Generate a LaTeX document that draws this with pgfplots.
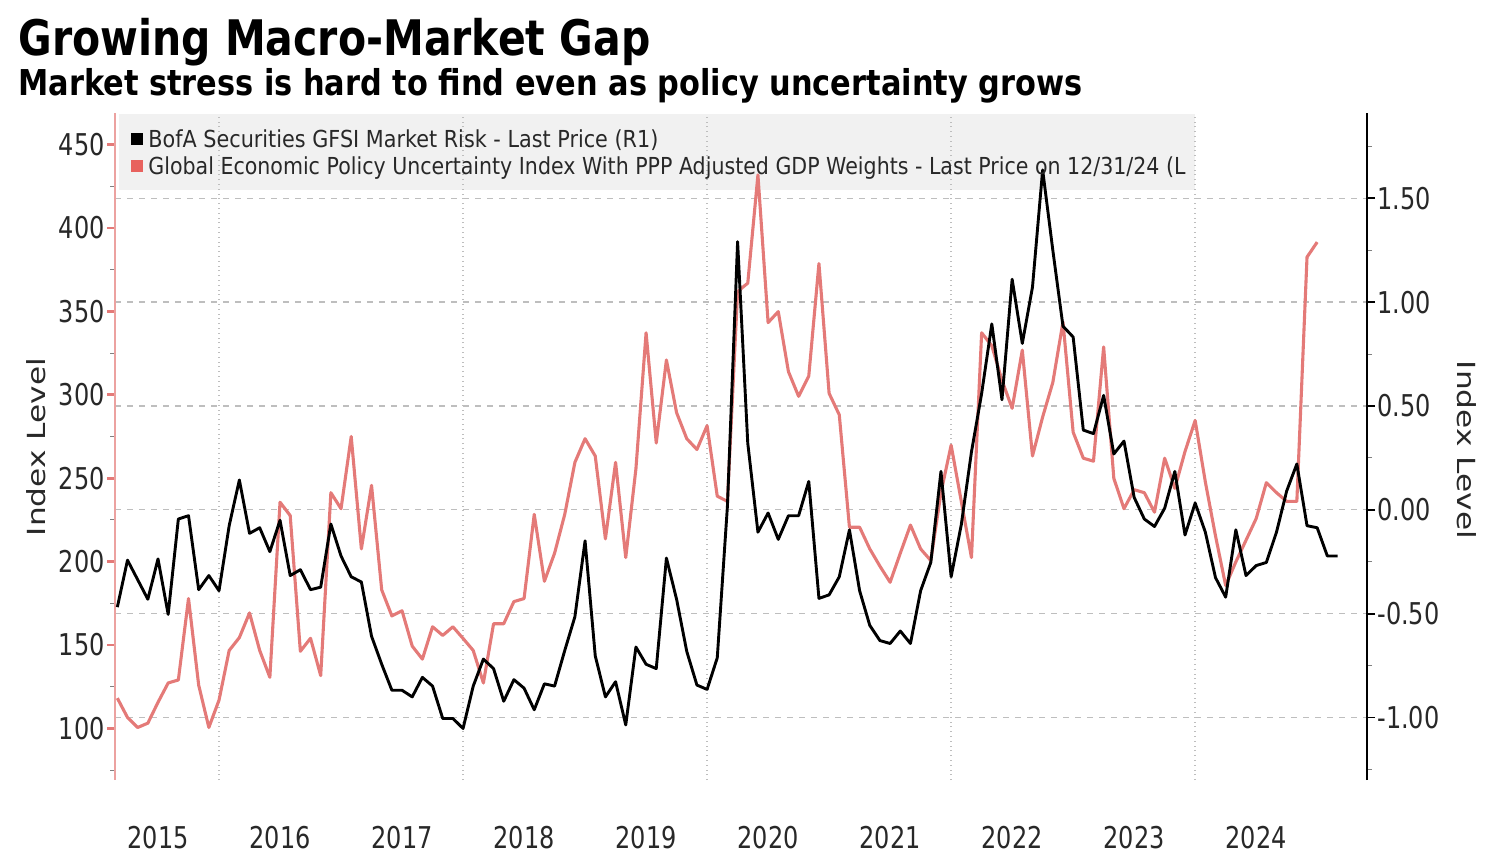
\documentclass[border=0pt]{standalone}
\usepackage{fontspec}
\setmainfont{DejaVu Sans}[FakeStretch=0.8]
\newfontfamily\plainfont{DejaVu Sans}
\usepackage{graphicx}
\usepackage{pgfplots}
\pgfplotsset{compat=1.18}
\definecolor{redline}{RGB}{228,122,120}
\definecolor{redsq}{RGB}{232,98,94}
\definecolor{leggray}{RGB}{241,241,241}
\definecolor{txt}{RGB}{40,40,40}
\definecolor{gridc}{RGB}{190,190,190}

\pgfplotstableread{
t v
2 118.1
3 106.5
4 100.5
5 103.1
6 115.6
7 127.2
8 129.0
9 177.8
10 125.9
11 100.5
12 116.9
13 146.7
14 154.4
15 169.2
16 146.7
17 130.6
18 235.6
19 227.6
20 146.2
21 154.0
22 131.6
23 241.3
24 231.7
25 275.0
26 207.6
27 245.7
28 183.0
29 167.4
30 170.5
31 149.3
32 141.5
33 160.9
34 155.7
35 160.9
36 153.9
37 146.7
38 127.2
39 162.7
40 162.7
41 176.0
42 177.8
43 228.3
44 188.2
45 205.0
46 228.3
47 259.5
48 273.7
49 263.3
50 213.6
51 259.5
52 202.4
53 255.6
54 337.2
55 271.1
56 320.9
57 289.3
58 273.7
59 267.2
60 281.5
61 239.2
62 236.1
63 361.9
64 367.0
65 431.9
66 343.3
67 349.9
68 313.9
69 299.1
70 311.3
71 378.7
72 300.9
73 288.0
74 220.6
75 220.6
76 207.6
77 197.2
78 187.6
79 205.0
80 221.9
81 207.6
82 200.6
83 241.3
84 269.8
85 236.1
86 202.4
87 337.2
88 329.4
89 308.7
90 291.9
91 326.8
92 263.3
93 286.7
94 307.4
95 343.7
96 277.6
97 262.0
98 260.2
99 328.7
100 249.9
101 231.7
102 243.1
103 241.3
104 229.6
105 262.0
106 243.9
107 266.0
108 284.6
109 247.8
110 215.4
111 185.6
112 199.8
113 212.8
114 225.8
115 247.3
116 241.3
117 236.1
118 236.1
119 382.6
120 391.6
}\epudata

\pgfplotstableread{
t v
2 -0.468
3 -0.242
4 -0.336
5 -0.430
6 -0.236
7 -0.503
8 -0.044
9 -0.028
10 -0.384
11 -0.316
12 -0.389
13 -0.076
14 0.144
15 -0.113
16 -0.086
17 -0.201
18 -0.050
19 -0.316
20 -0.288
21 -0.384
22 -0.372
23 -0.068
24 -0.222
25 -0.322
26 -0.347
27 -0.608
28 -0.743
29 -0.868
30 -0.868
31 -0.900
32 -0.806
33 -0.848
34 -1.004
35 -1.004
36 -1.052
37 -0.848
38 -0.718
39 -0.764
40 -0.921
41 -0.817
42 -0.858
43 -0.962
44 -0.837
45 -0.848
46 -0.677
47 -0.514
48 -0.149
49 -0.702
50 -0.900
51 -0.827
52 -1.035
53 -0.660
54 -0.743
55 -0.764
56 -0.232
57 -0.430
58 -0.681
59 -0.843
60 -0.864
61 -0.712
62 0.018
63 1.291
64 0.321
65 -0.107
66 -0.015
67 -0.142
68 -0.028
69 -0.028
70 0.137
71 -0.426
72 -0.409
73 -0.322
74 -0.096
75 -0.389
76 -0.556
77 -0.629
78 -0.643
79 -0.583
80 -0.643
81 -0.389
82 -0.253
83 0.185
84 -0.322
85 -0.071
86 0.279
87 0.560
88 0.895
89 0.530
90 1.110
91 0.801
92 1.072
93 1.636
94 1.250
95 0.884
96 0.832
97 0.384
98 0.367
99 0.551
100 0.269
101 0.331
102 0.060
103 -0.044
104 -0.080
105 0.008
106 0.185
107 -0.121
108 0.033
109 -0.107
110 -0.326
111 -0.420
112 -0.096
113 -0.316
114 -0.268
115 -0.253
116 -0.107
117 0.091
118 0.221
119 -0.076
120 -0.086
121 -0.222
122 -0.222
}\gfsidata

\begin{document}
\begin{tikzpicture}
\path (0,0) rectangle (750pt,-425pt);

% left axis (red series)
\begin{axis}[
  set layers,
  at={(57.5pt,-390pt)}, anchor=south west,
  scale only axis, width=626pt, height=333.5pt,
  xmin=1.77, xmax=124.9, ymin=69, ymax=469,
  axis x line*=bottom, axis y line*=left,
  x axis line style={draw=none},
  y axis line style={draw=redline!70, line width=0.6pt},
  xtick={6,18,30,42,54,66,78,90,102,114},
  xticklabels={2015,2016,2017,2018,2019,2020,2021,2022,2023,2024},
  major x tick style={draw=none},
  xticklabel style={font=\fontsize{15}{18}\selectfont, text=txt, anchor=base, yshift=-30pt},
  extra x ticks={12,36,60,84,108},
  extra x tick labels={},
  extra x tick style={grid=major, major grid style={gridc, dotted, line width=0.7pt}, major tick length=0pt},
  ytick={100,150,200,250,300,350,400,450},
  minor ytick={75,125,175,225,275,325,375,425},
  tick align=outside,
  major tick length=4pt, minor tick length=2.5pt,
  major y tick style={redline, line width=1.4pt},
  minor y tick style={gray, line width=0.5pt},
  yticklabel style={font=\fontsize{15}{18}\selectfont, text=txt, inner xsep=1pt},
  /pgf/number format/assume math mode=true,
]
\begin{pgfonlayer}{axis background}
\fill[leggray] (rel axis cs:0.003,0.8846) rectangle (rel axis cs:0.8626,0.9985);
\end{pgfonlayer}
\addplot[redline, line width=1.55pt, line join=round] table[x=t, y=v] {\epudata};
\end{axis}

% right axis (black series)
\begin{axis}[
  set layers,
  at={(57.5pt,-390pt)}, anchor=south west,
  scale only axis, width=626pt, height=333.5pt,
  xmin=1.77, xmax=124.9, ymin=-1.3, ymax=1.91,
  axis y line*=right, axis x line=none,
  y axis line style={black, line width=0.8pt},
  ytick={-1,-0.5,0,0.5,1,1.5},
  minor ytick={-1.25,-0.75,-0.25,0.25,0.75,1.25,1.75},
  ymajorgrids, major grid style={gridc, dashed, line width=0.6pt},
  tick align=outside,
  major tick length=4pt, minor tick length=2.5pt,
  major y tick style={black, line width=0.8pt},
  minor y tick style={gray, line width=0.5pt},
  yticklabel style={font=\fontsize{15}{18}\selectfont, text=txt, inner xsep=1pt,
    /pgf/number format/.cd, fixed, fixed zerofill, precision=2},
  /pgf/number format/assume math mode=true,
]
\addplot[black, line width=1.45pt, line join=round] table[x=t, y=v] {\gfsidata};
\end{axis}

% titles
\node[anchor=base west, inner sep=0, text=black] at (9pt,-27.5pt)
  {\resizebox{316pt}{\height}{\plainfont\bfseries\fontsize{24.5}{28}\selectfont Growing Macro-Market Gap}};
\node[anchor=base west, inner sep=0, text=black] at (9pt,-47.5pt)
  {\resizebox{532pt}{\height}{\plainfont\bfseries\fontsize{17.8}{21}\selectfont Market stress is hard to find even as policy uncertainty grows}};

% legend
\fill[black] (65.5pt,-66.5pt) rectangle (71.5pt,-72.5pt);
\fill[redsq] (65.5pt,-80pt) rectangle (71.5pt,-86pt);
\node[anchor=base west, inner sep=0, text=txt] at (74pt,-73.75pt)
  {\resizebox{255pt}{\height}{\plainfont\fontsize{11.7}{14}\selectfont BofA Securities GFSI Market Risk - Last Price (R1)}};
\node[anchor=base west, inner sep=0, text=txt] at (74pt,-87.25pt)
  {\resizebox{518.5pt}{\height}{\plainfont\fontsize{11.7}{14}\selectfont Global Economic Policy Uncertainty Index With PPP Adjusted GDP Weights - Last Price on 12/31/24 (L}};

% axis titles
\node[text=txt, inner sep=0] at (18pt,-223.5pt)
  {\scalebox{0.8}[1]{\rotatebox{90}{\plainfont\fontsize{15.6}{18}\selectfont Index Level}}};
\node[text=txt, inner sep=0] at (733.5pt,-225pt)
  {\scalebox{0.8}[1]{\rotatebox{-90}{\plainfont\fontsize{15.6}{18}\selectfont Index Level}}};
\end{tikzpicture}
\end{document}
